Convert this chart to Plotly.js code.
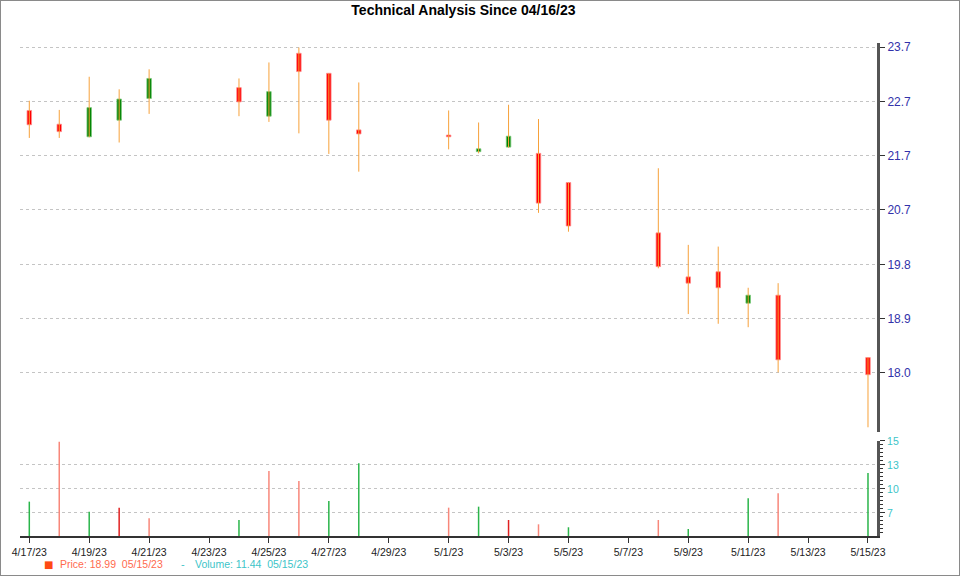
<!DOCTYPE html>
<html>
<head>
<meta charset="utf-8">
<script src="https://cdn.plot.ly/plotly-3.0.1.min.js"></script>
<style>
  html, body { margin: 0; padding: 0; background: #fff; }
  #frame { width: 960px; height: 576px; box-sizing: border-box; border: 1px solid #8a8a8a; overflow: hidden; }
  #chart { width: 958px; height: 574px; }
</style>
</head>
<body>
<div id="frame"><div id="chart"></div></div>
<script>
// ---- data ----
const dates = ['2023-04-17','2023-04-18','2023-04-19','2023-04-20','2023-04-21',
               '2023-04-24','2023-04-25','2023-04-26','2023-04-27','2023-04-28',
               '2023-05-01','2023-05-02','2023-05-03','2023-05-04','2023-05-05',
               '2023-05-08','2023-05-09','2023-05-10','2023-05-11','2023-05-12',
               '2023-05-15'];
const openP  = [22.59,22.35,22.13,22.42,22.80,22.99,22.49,23.59,23.24,22.25,22.16,21.87,21.95,21.84,21.33,20.45,19.68,19.77,19.22,19.36,18.27];
const highP  = [22.76,22.60,23.18,22.96,23.31,23.15,23.43,23.69,23.24,23.08,22.59,22.38,22.69,22.44,21.33,21.58,20.24,20.21,19.49,19.57,18.27];
const lowP   = [22.11,22.11,22.12,22.03,22.53,22.49,22.39,22.19,21.83,21.52,21.91,21.84,21.94,20.80,20.47,19.83,19.03,18.86,18.80,18.01,17.05];
const closeP = [22.34,22.22,22.64,22.79,23.15,22.74,22.92,23.27,22.42,22.18,22.13,21.92,22.14,20.97,20.57,19.86,19.57,19.49,19.36,18.23,17.97];
const volume = [8.26,14.92,7.14,7.59,6.41,6.22,11.67,10.56,8.33,12.52,7.59,7.70,6.22,5.74,5.41,6.22,5.22,4.30,8.63,9.19,11.44];
const volDir = ['u','d','u','D','d','u','d','d','u','u','d','u','D','d','u','d','u','u','u','d','u'];
const priceTickLabels  = ['18.0','18.9','19.8','20.7','21.7','22.7','23.7'];
const volumeTickLabels = ['7','10','13','15'];
const titleText = 'Technical Analysis Since 04/16/23';
const legendPrice  = 'Price: 18.99\u00a0\u00a005/15/23';
const legendVolume = 'Volume: 11.44\u00a0\u00a005/15/23';

// ---- build traces ----
const DAY = 86400000;
const wickX = [], wickY = [];
dates.forEach((d, i) => { wickX.push(d, d, null); wickY.push(lowP[i], highP[i], null); });

const bodyBase = openP.map((o, i) => Math.min(o, closeP[i]));
const bodyH = openP.map((o, i) => Math.max(Math.abs(o - closeP[i]), 0.02));
const bodyColor = openP.map((o, i) => closeP[i] >= o ? '#008000' : '#ff0000');
const bodyEdge = openP.map((o, i) => closeP[i] >= o ? 'rgba(120,200,120,0.8)' : 'rgba(255,140,140,0.8)');

const volColorMap = { u: '#2ab54a', d: '#f8877a', D: '#e02020' };
const volColors = volDir.map(v => volColorMap[v]);

const traces = [
  { type: 'scatter', mode: 'lines', x: wickX, y: wickY, xaxis: 'x', yaxis: 'y',
    line: { color: '#f7a13a', width: 1 }, hoverinfo: 'skip' },
  { type: 'bar', x: dates, base: bodyBase, y: bodyH, xaxis: 'x', yaxis: 'y',
    width: 0.15 * DAY, marker: { color: bodyColor, line: { color: bodyEdge, width: 1 } } },
  { type: 'bar', x: dates, y: volume, xaxis: 'x', yaxis: 'y2',
    width: 0.05 * DAY, marker: { color: volColors, line: { width: 0 } } }
];

const priceTickVals = priceTickLabels.map((_, i) => 18.0 + i * 0.95);
const volTickVals = [7, 7 + 8/3, 7 + 16/3, 15];

const tickFont = { family: 'Liberation Sans, Arial, sans-serif', size: 10.5, color: '#222' };

const layout = {
  width: 958, height: 574,
  margin: { l: 19, r: 82, t: 42, b: 39 },
  paper_bgcolor: '#fff', plot_bgcolor: '#fff',
  showlegend: false, barmode: 'overlay', hovermode: false,
  title: { text: titleText, xref: 'container', yref: 'container', x: 0.4827, xanchor: 'center',
           y: 1 - 9.5/574, yanchor: 'middle',
           font: { family: 'Liberation Sans, Arial, sans-serif', size: 14, color: '#000', weight: 'bold' } },
  xaxis: {
    type: 'date', anchor: 'y2',
    range: ['2023-04-16 16:33', '2023-05-15 07:13'],
    tickmode: 'linear', tick0: '2023-04-17', dtick: 2 * DAY, tickformat: '%-m/%-d/%y',
    showgrid: false, zeroline: false,
    showline: true, linecolor: '#333', linewidth: 2,
    ticks: 'outside', ticklen: 5, tickcolor: '#333', tickwidth: 1,
    tickfont: tickFont
  },
  yaxis: {
    domain: [0.2110, 1], side: 'right', anchor: 'x',
    range: [16.968, 23.77],
    tickmode: 'array', tickvals: priceTickVals, ticktext: priceTickLabels,
    showgrid: true, gridcolor: '#c4c4c4', griddash: 'dot', gridwidth: 1,
    zeroline: false, showline: true, linecolor: '#555', linewidth: 3,
    ticks: 'outside', ticklen: 5, tickcolor: '#333', tickwidth: 1,
    tickfont: { family: 'Liberation Sans, Arial, sans-serif', size: 12, color: '#3232aa' }
  },
  yaxis2: {
    domain: [0, 0.1927], side: 'right', anchor: 'x',
    range: [4.44, 15.0],
    tickmode: 'array', tickvals: volTickVals, ticktext: volumeTickLabels,
    showgrid: true, gridcolor: '#c4c4c4', griddash: 'dot', gridwidth: 1,
    zeroline: false, showline: true, linecolor: '#555', linewidth: 3,
    ticks: 'outside', ticklen: 5, tickcolor: '#333', tickwidth: 1,
    minor: { ticks: 'outside', ticklen: 3, tickcolor: '#333', tick0: 7, dtick: 8/18, showgrid: false },
    tickfont: { family: 'Liberation Sans, Arial, sans-serif', size: 10.5, color: '#3cc4c8' }
  },
  annotations: [
    { xref: 'paper', yref: 'paper', x: (48 - 20) / 857, y: (536 - 564) / 493, xanchor: 'center', yanchor: 'middle',
      text: '\u25A0', showarrow: false, font: { family: 'DejaVu Sans, sans-serif', size: 10, color: '#ff4a14' } },
    { xref: 'paper', yref: 'paper', x: (58 - 20) / 857, y: (536 - 564) / 493, xanchor: 'left', yanchor: 'middle',
      text: legendPrice, showarrow: false, font: { family: 'Liberation Sans, Arial, sans-serif', size: 10.5, color: '#ff6a4e' } },
    { xref: 'paper', yref: 'paper', x: (183 - 20) / 857, y: (536 - 564) / 493, xanchor: 'center', yanchor: 'middle',
      text: '-', showarrow: false, font: { family: 'Liberation Sans, Arial, sans-serif', size: 11, color: '#3cc4c8' } },
    { xref: 'paper', yref: 'paper', x: (193 - 20) / 857, y: (536 - 564) / 493, xanchor: 'left', yanchor: 'middle',
      text: legendVolume, showarrow: false, font: { family: 'Liberation Sans, Arial, sans-serif', size: 10.5, color: '#3cc4c8' } }
  ]
};

Plotly.newPlot('chart', traces, layout, { displayModeBar: false, staticPlot: true });
</script>
</body>
</html>
